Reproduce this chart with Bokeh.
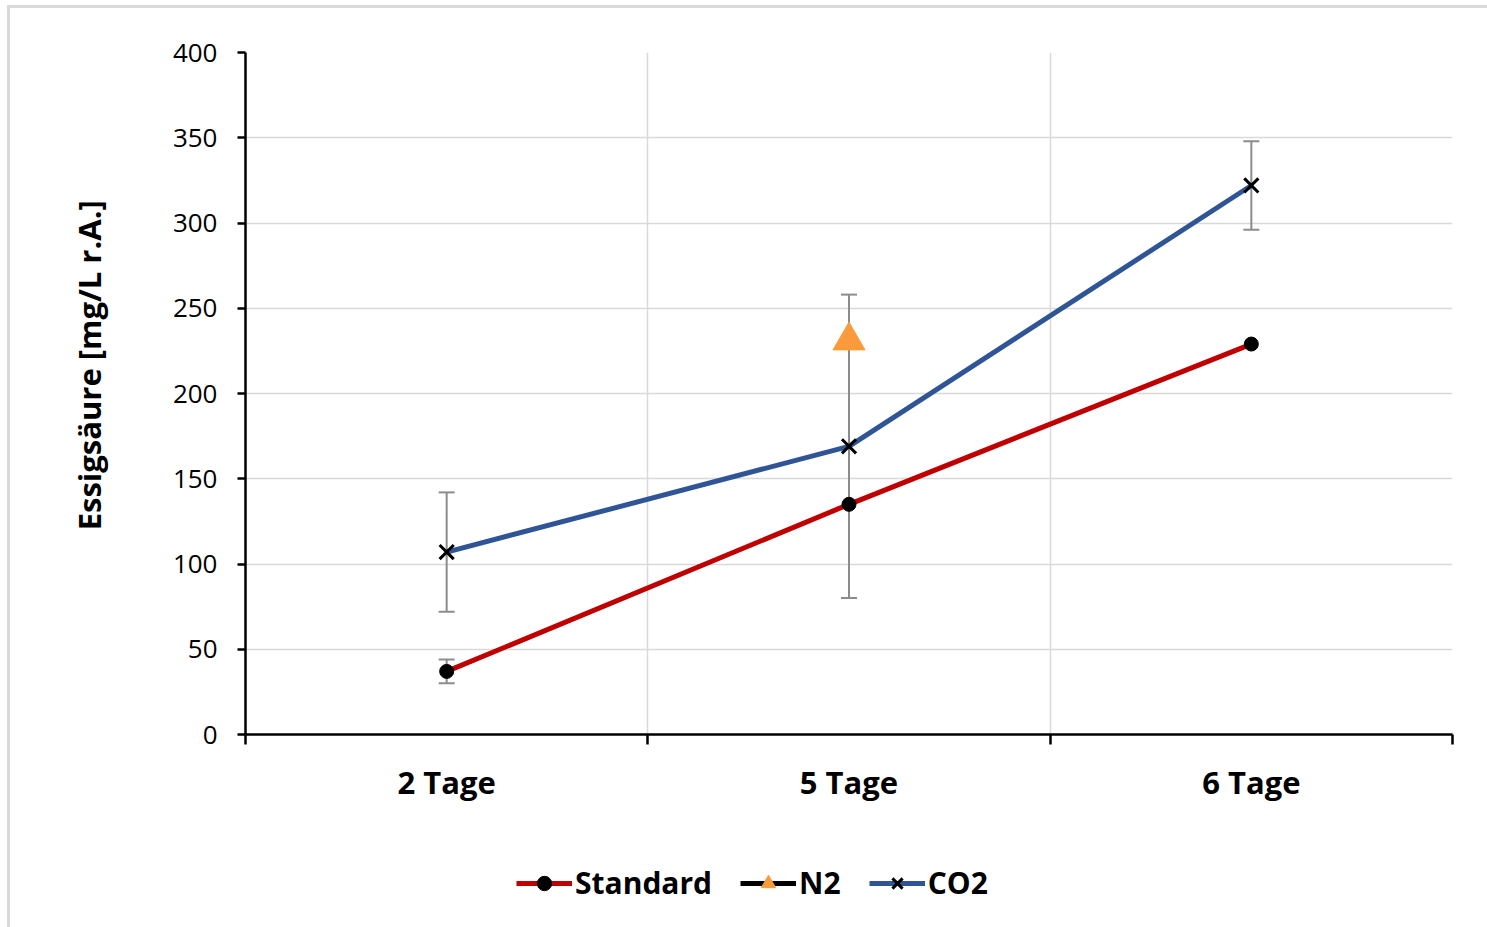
from bokeh.plotting import figure
from bokeh.layouts import column
from bokeh.models import (ColumnDataSource, FixedTicker, Range1d, Whisker, TeeHead,
                          Legend, LegendItem)
from bokeh.embed import file_html
from bokeh.resources import INLINE

# ---- data ----
categories = ["2 Tage", "5 Tage", "6 Tage"]
standard = [37, 135, 229]
standard_err = [7, 0, 0]
n2_category = ["5 Tage"]
n2 = [231]
co2 = [107, 169, 322]
co2_err = [35, 89, 26]
y_ticks = [0, 50, 100, 150, 200, 250, 300, 350, 400]
y_label = "Essigsäure [mg/L r.A.]"
series_names = ["Standard", "N2", "CO2"]

FONT = "Open Sans"
NB = "\u00a0"
RED = "#c00000"
BLUE = "#2f5597"
ORANGE = "#fb9a3a"
GREY = "#8c8c8c"

xs = [i + 0.5 for i in range(len(categories))]
n2_x = [categories.index(c) + 0.5 for c in n2_category]
bounds = list(range(len(categories) + 1))

W = 1477
H_MAIN = 806
H_LEG = 113

p = figure(width=W, height=H_MAIN, output_backend="svg", toolbar_location=None,
           x_range=Range1d(0, len(categories)), y_range=Range1d(0, 400),
           min_border_left=235, min_border_right=35, min_border_top=44,
           min_border_bottom=80)
p.outline_line_color = None
p.background_fill_color = "white"
p.border_fill_color = "white"

# grid
p.xgrid.ticker = FixedTicker(ticks=bounds)
p.xgrid.grid_line_color = "#d9d9d9"
p.xgrid.grid_line_width = 1.5
p.ygrid.grid_line_color = "#d9d9d9"
p.ygrid.grid_line_width = 1.5

# x axis
xa = p.xaxis[0]
xa.ticker = FixedTicker(ticks=xs, minor_ticks=bounds)
xa.major_label_overrides = {x: c for x, c in zip(xs, categories)}
xa.major_tick_out = 0
xa.major_tick_in = 0
xa.minor_tick_out = 10
xa.minor_tick_in = 0
xa.minor_tick_line_width = 2.5
xa.minor_tick_line_color = "black"
xa.axis_line_width = 2.5
xa.axis_line_color = "black"
xa.major_label_text_font = FONT
xa.major_label_text_font_style = "bold"
xa.major_label_text_font_size = "31px"
xa.major_label_text_color = "black"
xa.major_label_standoff = 16

# y axis
ya = p.yaxis[0]
ya.ticker = FixedTicker(ticks=y_ticks)
ya.major_tick_out = 8
ya.major_tick_in = 0
ya.minor_tick_out = 0
ya.minor_tick_in = 0
ya.major_tick_line_width = 2.5
ya.major_tick_line_color = "black"
ya.axis_line_width = 2.5
ya.axis_line_color = "black"
ya.major_label_text_font = FONT
ya.major_label_text_font_size = "26px"
ya.major_label_text_color = "black"
ya.major_label_standoff = 20
ya.axis_label = NB * 7 + y_label
ya.axis_label_text_font = FONT
ya.axis_label_text_font_style = "bold"
ya.axis_label_text_font_size = "31px"
ya.axis_label_text_color = "black"
ya.axis_label_standoff = 60

# error bars
err_x = xs + xs
err_c = standard + co2
err_e = standard_err + co2_err
src_err = ColumnDataSource(dict(
    x=[x for x, e in zip(err_x, err_e) if e > 0],
    upper=[c + e for c, e in zip(err_c, err_e) if e > 0],
    lower=[c - e for c, e in zip(err_c, err_e) if e > 0]))
wh = Whisker(base="x", upper="upper", lower="lower", source=src_err,
             line_color=GREY, line_width=2,
             upper_head=TeeHead(size=16, line_color=GREY, line_width=2),
             lower_head=TeeHead(size=16, line_color=GREY, line_width=2))
p.add_layout(wh)

p.line(xs, standard, line_color=RED, line_width=5)
p.scatter(xs, standard, marker="circle", size=14, fill_color="black",
          line_color="black")
p.line(xs, co2, line_color=BLUE, line_width=5)
p.scatter(xs, co2, marker="x", size=20, line_color="black", line_width=3)
p.line(n2_x, n2, line_color="black", line_width=5)
p.scatter(n2_x, n2, marker="triangle", size=32, fill_color=ORANGE,
          line_color=ORANGE)

# ---- legend strip below the chart ----
q = figure(width=W, height=H_LEG, output_backend="svg", toolbar_location=None,
           x_range=Range1d(0, 1), y_range=Range1d(0, 1),
           x_axis_type=None, y_axis_type=None,
           min_border_left=0, min_border_right=0, min_border_top=0,
           min_border_bottom=0)
q.outline_line_color = None
q.xgrid.visible = False
q.ygrid.visible = False
q.background_fill_color = "white"
q.border_fill_color = "white"

# legend proxies (placed outside the visible range of the strip)
px, py = [-5], [-5]
ql_std = q.line(px, py, line_color=RED, line_width=5)
qm_std = q.scatter(px, py, marker="circle", size=14, fill_color="black",
                   line_color="black")
ql_n2 = q.line(px, py, line_color="black", line_width=5)
qm_n2 = q.scatter(px, py, marker="triangle", size=32, fill_color=ORANGE,
                  line_color=ORANGE)
ql_co2 = q.line(px, py, line_color=BLUE, line_width=5)
qm_co2 = q.scatter(px, py, marker="x", size=20, line_color="black", line_width=3)

legend = Legend(items=[
    LegendItem(label=series_names[0], renderers=[ql_std, qm_std]),
    LegendItem(label=series_names[1], renderers=[ql_n2, qm_n2]),
    LegendItem(label=series_names[2], renderers=[ql_co2, qm_co2]),
], orientation="horizontal", location=(271, 24))
legend.label_text_font = FONT
legend.label_text_font_style = "bold"
legend.label_text_font_size = "30px"
legend.label_text_color = "black"
legend.glyph_width = 56
legend.glyph_height = 36
legend.label_standoff = 3
legend.spacing = 28
legend.padding = 0
legend.margin = 0
legend.border_line_color = None
legend.background_fill_alpha = 0
q.add_layout(legend, "center")

layout = column(p, q, spacing=0)
layout.styles = {"margin-left": "7px", "margin-top": "5px",
                 "border-left": "3px solid #d9d9d9", "border-top": "3px solid #d9d9d9"}

open("out.html", "w").write(file_html(layout, INLINE))
